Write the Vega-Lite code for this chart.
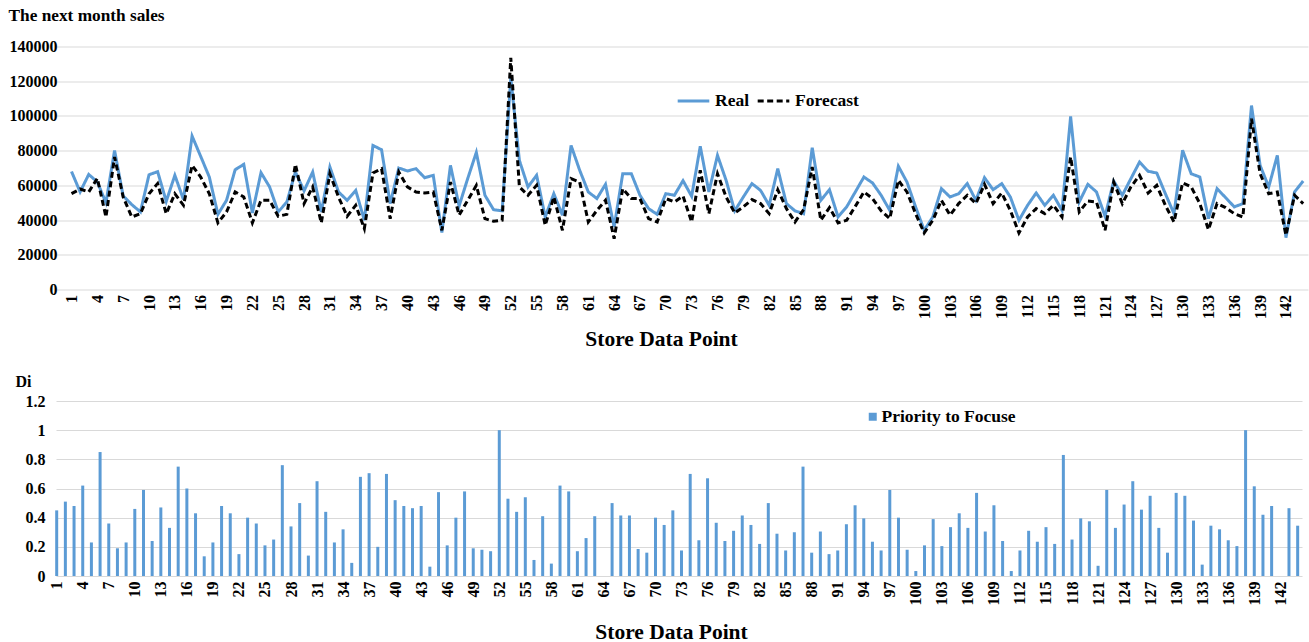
{
  "$schema": "https://vega.github.io/schema/vega-lite/v6.json",
  "background": "white",
  "padding": {"left": 8, "top": 5.5, "right": 0, "bottom": 0},
  "config": {
    "font": "Liberation Serif",
    "view": {"stroke": null},
    "axis": {"labelFont": "Liberation Serif", "labelFontWeight": "bold", "labelColor": "#000000", "labelFontSize": 16, "titleFont": "Liberation Serif", "titleFontWeight": "bold", "titleColor": "#000000", "domain": false, "ticks": false, "gridColor": "#d9d9d9", "gridWidth": 1},
    "legend": {"labelFont": "Liberation Serif", "labelFontWeight": "bold", "labelFontSize": 17.5, "labelColor": "#000000"}
  },
  "datasets": {
    "stores": [
      {"store":1,"Real":68000,"Forecast":55200,"Di":0.45},
      {"store":2,"Real":56200,"Forecast":57900,"Di":0.51},
      {"store":3,"Real":66300,"Forecast":56200,"Di":0.48},
      {"store":4,"Real":61900,"Forecast":64000,"Di":0.62},
      {"store":5,"Real":50000,"Forecast":41800,"Di":0.23},
      {"store":6,"Real":80100,"Forecast":76300,"Di":0.85},
      {"store":7,"Real":53900,"Forecast":53300,"Di":0.36},
      {"store":8,"Real":48900,"Forecast":41800,"Di":0.19},
      {"store":9,"Real":44700,"Forecast":43700,"Di":0.23},
      {"store":10,"Real":66100,"Forecast":55200,"Di":0.46},
      {"store":11,"Real":67900,"Forecast":61000,"Di":0.59},
      {"store":12,"Real":50800,"Forecast":43700,"Di":0.24},
      {"store":13,"Real":65800,"Forecast":55200,"Di":0.47},
      {"store":14,"Real":51800,"Forecast":48500,"Di":0.33},
      {"store":15,"Real":88400,"Forecast":71500,"Di":0.75},
      {"store":16,"Real":76700,"Forecast":64800,"Di":0.6},
      {"store":17,"Real":64800,"Forecast":55200,"Di":0.43},
      {"store":18,"Real":43300,"Forecast":38400,"Di":0.135},
      {"store":19,"Real":51400,"Forecast":44700,"Di":0.23},
      {"store":20,"Real":69000,"Forecast":56200,"Di":0.48},
      {"store":21,"Real":72100,"Forecast":53300,"Di":0.43},
      {"store":22,"Real":44100,"Forecast":38400,"Di":0.15},
      {"store":23,"Real":67300,"Forecast":51400,"Di":0.4},
      {"store":24,"Real":59100,"Forecast":51400,"Di":0.36},
      {"store":25,"Real":44700,"Forecast":42200,"Di":0.21},
      {"store":26,"Real":50400,"Forecast":43300,"Di":0.25},
      {"store":27,"Real":67700,"Forecast":72100,"Di":0.76},
      {"store":28,"Real":56800,"Forecast":49500,"Di":0.34},
      {"store":29,"Real":67700,"Forecast":59100,"Di":0.5},
      {"store":30,"Real":44700,"Forecast":38400,"Di":0.14},
      {"store":31,"Real":70600,"Forecast":66700,"Di":0.65},
      {"store":32,"Real":56200,"Forecast":53300,"Di":0.44},
      {"store":33,"Real":51400,"Forecast":42200,"Di":0.23},
      {"store":34,"Real":57100,"Forecast":48500,"Di":0.32},
      {"store":35,"Real":39900,"Forecast":35100,"Di":0.09},
      {"store":36,"Real":83000,"Forecast":67100,"Di":0.68},
      {"store":37,"Real":80500,"Forecast":69600,"Di":0.705},
      {"store":38,"Real":49500,"Forecast":40800,"Di":0.2},
      {"store":39,"Real":70000,"Forecast":67700,"Di":0.7},
      {"store":40,"Real":68300,"Forecast":59100,"Di":0.52},
      {"store":41,"Real":69600,"Forecast":56200,"Di":0.48},
      {"store":42,"Real":64400,"Forecast":55600,"Di":0.465},
      {"store":43,"Real":65800,"Forecast":56200,"Di":0.48},
      {"store":44,"Real":32800,"Forecast":34100,"Di":0.064},
      {"store":45,"Real":71500,"Forecast":61900,"Di":0.575},
      {"store":46,"Real":48100,"Forecast":42800,"Di":0.21},
      {"store":47,"Real":63900,"Forecast":51400,"Di":0.4},
      {"store":48,"Real":79000,"Forecast":60000,"Di":0.58},
      {"store":49,"Real":54300,"Forecast":40800,"Di":0.19},
      {"store":50,"Real":46000,"Forecast":39300,"Di":0.18},
      {"store":51,"Real":45300,"Forecast":39900,"Di":0.17},
      {"store":52,"Real":122000,"Forecast":133500,"Di":1.0},
      {"store":53,"Real":74400,"Forecast":59100,"Di":0.53},
      {"store":54,"Real":59100,"Forecast":54300,"Di":0.44},
      {"store":55,"Real":65800,"Forecast":60000,"Di":0.54},
      {"store":56,"Real":41800,"Forecast":37000,"Di":0.11},
      {"store":57,"Real":55200,"Forecast":53300,"Di":0.41},
      {"store":58,"Real":42800,"Forecast":34100,"Di":0.085},
      {"store":59,"Real":83000,"Forecast":63900,"Di":0.62},
      {"store":60,"Real":68700,"Forecast":61900,"Di":0.58},
      {"store":61,"Real":56200,"Forecast":38900,"Di":0.17},
      {"store":62,"Real":52400,"Forecast":45600,"Di":0.26},
      {"store":63,"Real":60600,"Forecast":51400,"Di":0.41},
      {"store":64,"Real":36000,"Forecast":29300,"Di":0},
      {"store":65,"Real":66700,"Forecast":58100,"Di":0.5},
      {"store":66,"Real":66700,"Forecast":52400,"Di":0.415},
      {"store":67,"Real":54300,"Forecast":52400,"Di":0.415},
      {"store":68,"Real":46600,"Forecast":40800,"Di":0.185},
      {"store":69,"Real":43300,"Forecast":38900,"Di":0.16},
      {"store":70,"Real":55200,"Forecast":52400,"Di":0.4},
      {"store":71,"Real":54300,"Forecast":50400,"Di":0.35},
      {"store":72,"Real":62700,"Forecast":53800,"Di":0.45},
      {"store":73,"Real":53700,"Forecast":38900,"Di":0.175},
      {"store":74,"Real":82500,"Forecast":68700,"Di":0.7},
      {"store":75,"Real":56200,"Forecast":43700,"Di":0.245},
      {"store":76,"Real":77300,"Forecast":66700,"Di":0.67},
      {"store":77,"Real":62900,"Forecast":53300,"Di":0.365},
      {"store":78,"Real":45300,"Forecast":44100,"Di":0.24},
      {"store":79,"Real":53300,"Forecast":47600,"Di":0.31},
      {"store":80,"Real":61000,"Forecast":51800,"Di":0.415},
      {"store":81,"Real":57100,"Forecast":49500,"Di":0.35},
      {"store":82,"Real":48500,"Forecast":43700,"Di":0.22},
      {"store":83,"Real":69600,"Forecast":57500,"Di":0.5},
      {"store":84,"Real":49500,"Forecast":46600,"Di":0.29},
      {"store":85,"Real":45300,"Forecast":38900,"Di":0.175},
      {"store":86,"Real":43700,"Forecast":46000,"Di":0.3},
      {"store":87,"Real":81700,"Forecast":70600,"Di":0.75},
      {"store":88,"Real":51400,"Forecast":39900,"Di":0.16},
      {"store":89,"Real":57500,"Forecast":47200,"Di":0.305},
      {"store":90,"Real":41800,"Forecast":38400,"Di":0.15},
      {"store":91,"Real":47600,"Forecast":39900,"Di":0.175},
      {"store":92,"Real":56200,"Forecast":47900,"Di":0.355},
      {"store":93,"Real":64800,"Forecast":56200,"Di":0.485},
      {"store":94,"Real":61400,"Forecast":52400,"Di":0.395},
      {"store":95,"Real":54300,"Forecast":45300,"Di":0.235},
      {"store":96,"Real":45600,"Forecast":40800,"Di":0.175},
      {"store":97,"Real":71000,"Forecast":62900,"Di":0.59},
      {"store":98,"Real":61900,"Forecast":56200,"Di":0.4},
      {"store":99,"Real":47600,"Forecast":43700,"Di":0.18},
      {"store":100,"Real":34100,"Forecast":32600,"Di":0.034},
      {"store":101,"Real":41800,"Forecast":39900,"Di":0.21},
      {"store":102,"Real":58100,"Forecast":51400,"Di":0.39},
      {"store":103,"Real":53300,"Forecast":42800,"Di":0.205},
      {"store":104,"Real":55200,"Forecast":49500,"Di":0.335},
      {"store":105,"Real":61000,"Forecast":54300,"Di":0.43},
      {"store":106,"Real":51400,"Forecast":49500,"Di":0.33},
      {"store":107,"Real":64400,"Forecast":60600,"Di":0.57},
      {"store":108,"Real":57500,"Forecast":49500,"Di":0.305},
      {"store":109,"Real":61000,"Forecast":55600,"Di":0.485},
      {"store":110,"Real":53300,"Forecast":45600,"Di":0.24},
      {"store":111,"Real":39900,"Forecast":32600,"Di":0.034},
      {"store":112,"Real":48500,"Forecast":41800,"Di":0.175},
      {"store":113,"Real":55600,"Forecast":46600,"Di":0.31},
      {"store":114,"Real":48500,"Forecast":43700,"Di":0.235},
      {"store":115,"Real":54300,"Forecast":48500,"Di":0.335},
      {"store":116,"Real":45600,"Forecast":41800,"Di":0.22},
      {"store":117,"Real":99700,"Forecast":76300,"Di":0.83},
      {"store":118,"Real":50400,"Forecast":44700,"Di":0.25},
      {"store":119,"Real":60600,"Forecast":51000,"Di":0.395},
      {"store":120,"Real":56200,"Forecast":50400,"Di":0.375},
      {"store":121,"Real":42200,"Forecast":34100,"Di":0.07},
      {"store":122,"Real":62500,"Forecast":61900,"Di":0.59},
      {"store":123,"Real":54300,"Forecast":49500,"Di":0.33},
      {"store":124,"Real":63900,"Forecast":59100,"Di":0.49},
      {"store":125,"Real":73400,"Forecast":65800,"Di":0.65},
      {"store":126,"Real":68100,"Forecast":55600,"Di":0.455},
      {"store":127,"Real":67100,"Forecast":60000,"Di":0.55},
      {"store":128,"Real":55200,"Forecast":48500,"Di":0.33},
      {"store":129,"Real":43700,"Forecast":38900,"Di":0.16},
      {"store":130,"Real":80200,"Forecast":61400,"Di":0.57},
      {"store":131,"Real":66700,"Forecast":59100,"Di":0.55},
      {"store":132,"Real":64800,"Forecast":49500,"Di":0.38},
      {"store":133,"Real":40800,"Forecast":34500,"Di":0.078},
      {"store":134,"Real":58100,"Forecast":49500,"Di":0.345},
      {"store":135,"Real":52900,"Forecast":47200,"Di":0.32},
      {"store":136,"Real":47600,"Forecast":43700,"Di":0.245},
      {"store":137,"Real":49500,"Forecast":41800,"Di":0.205},
      {"store":138,"Real":106000,"Forecast":98400,"Di":1.0},
      {"store":139,"Real":71500,"Forecast":66700,"Di":0.615},
      {"store":140,"Real":59100,"Forecast":55200,"Di":0.42},
      {"store":141,"Real":77300,"Forecast":56200,"Di":0.48},
      {"store":142,"Real":29900,"Forecast":31300,"Di":0},
      {"store":143,"Real":56200,"Forecast":54300,"Di":0.465},
      {"store":144,"Real":62500,"Forecast":49500,"Di":0.345}
    ]
  },
  "data": {"name": "stores"},
  "spacing": 22.5,
  "resolve": {"scale": {"x": "independent", "y": "independent", "color": "independent", "strokeDash": "independent"}, "legend": {"color": "independent", "strokeDash": "independent"}},
  "vconcat": [
    {
      "width": 1252,
      "height": 243,
      "transform": [{"fold": ["Real", "Forecast"], "as": ["series", "sales"]}],
      "mark": {"type": "line", "strokeWidth": 3},
      "encoding": {
        "x": {
          "field": "store", "type": "quantitative",
          "scale": {"domain": [-0.8, 144.56], "nice": false, "zero": false, "padding": 0},
          "axis": {"values": [1,4,7,10,13,16,19,22,25,28,31,34,37,40,43,46,49,52,55,58,61,64,67,70,73,76,79,82,85,88,91,94,97,100,103,106,109,112,115,118,121,124,127,130,133,136,139,142], "labelAngle": -90, "grid": false, "labelPadding": 5, "title": "Store Data Point", "titleFontSize": 21.5, "titlePadding": 10, "titleX": 605}
        },
        "y": {
          "field": "sales", "type": "quantitative",
          "scale": {"domain": [0, 140000], "nice": false},
          "axis": {"values": [0,20000,40000,60000,80000,100000,120000,140000], "format": "d", "labelPadding": -1, "title": "The next month sales", "titleAngle": 0, "titleX": -48, "titleY": -31.5, "titleAlign": "left", "titleBaseline": "middle", "titleFontSize": 17.3}
        },
        "color": {
          "field": "series", "type": "nominal",
          "scale": {"domain": ["Real", "Forecast"], "range": ["#5b9bd5", "#000000"]},
          "legend": {"title": null, "orient": "none", "legendX": 620, "legendY": 37, "direction": "horizontal", "symbolType": "stroke", "symbolSize": 1000, "symbolStrokeWidth": 3, "labelOffset": 4, "columnPadding": 1}
        },
        "strokeDash": {
          "field": "series", "type": "nominal",
          "scale": {"domain": ["Real", "Forecast"], "range": [[1, 0], [6, 3.5]]},
          "legend": {"title": null, "orient": "none", "legendX": 620, "legendY": 37, "direction": "horizontal", "symbolType": "stroke", "symbolSize": 1000, "symbolStrokeWidth": 3, "labelOffset": 4, "columnPadding": 1}
        }
      }
    },
    {
      "width": 1246,
      "height": 175,
      "mark": {"type": "bar", "width": 3},
      "encoding": {
        "x": {
          "field": "store", "type": "quantitative",
          "scale": {"domain": [0.92, 144.5], "nice": false, "zero": false, "padding": 0},
          "axis": {"values": [1,4,7,10,13,16,19,22,25,28,31,34,37,40,43,46,49,52,55,58,61,64,67,70,73,76,79,82,85,88,91,94,97,100,103,106,109,112,115,118,121,124,127,130,133,136,139,142], "labelAngle": -90, "grid": false, "labelPadding": 5, "title": "Store Data Point", "titleFontSize": 21.5, "titlePadding": 16, "titleX": 615}
        },
        "y": {
          "field": "Di", "type": "quantitative",
          "scale": {"domain": [0, 1.2], "nice": false},
          "axis": {"values": [0, 0.2, 0.4, 0.6, 0.8, 1, 1.2], "format": "~g", "labelPadding": 11, "title": "Di", "titleAngle": 0, "titleX": -41, "titleY": -20, "titleAlign": "left", "titleBaseline": "middle", "titleFontSize": 16}
        },
        "color": {
          "datum": "Priority to Focuse", "type": "nominal",
          "scale": {"range": ["#5b9bd5"]},
          "legend": {"title": null, "orient": "none", "legendX": 808, "legendY": 7, "symbolType": "square", "symbolSize": 64, "labelOffset": 0}
        }
      }
    }
  ]
}
